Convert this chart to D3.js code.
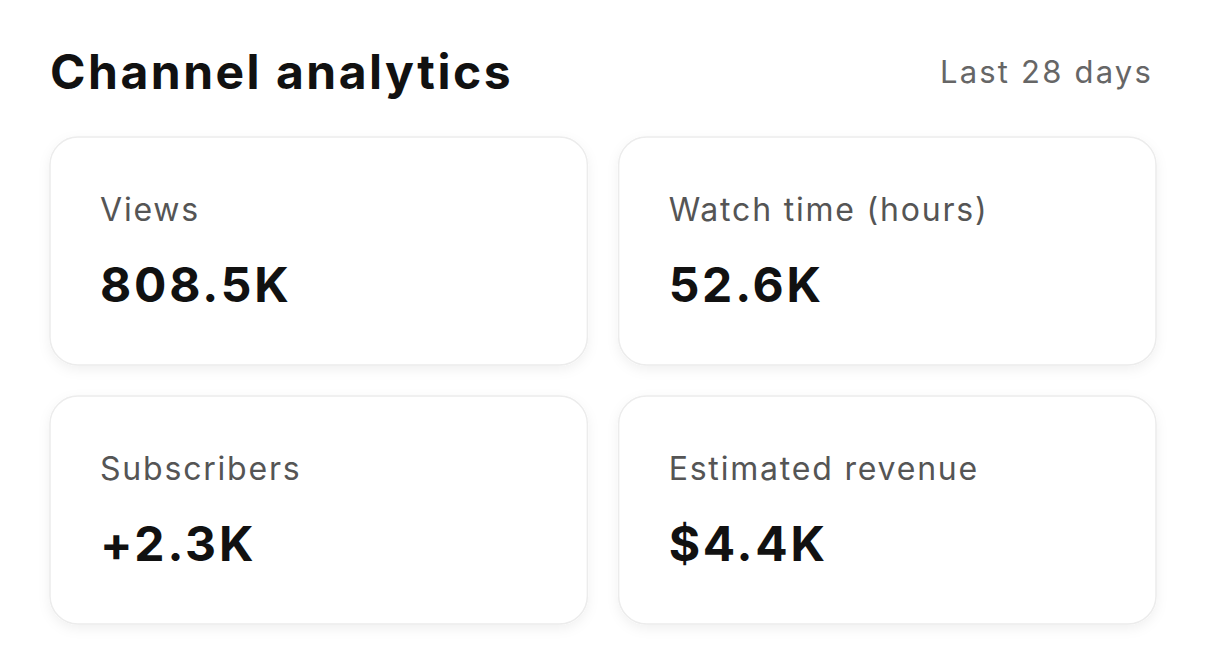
<!DOCTYPE html>
<html><head><meta charset="utf-8">
<script src="https://cdn.jsdelivr.net/npm/d3@7"></script>
<style>html,body{margin:0;background:#fff;}</style>
</head><body>
<script>
const title = "Channel analytics";
const period = "Last 28 days";
const labels = ["Views","Watch time (hours)","Subscribers","Estimated revenue"];
const values = ["808.5K","52.6K","+2.3K","$4.4K"];

const W=1206,H=670;
const svg=d3.select("body").append("svg").attr("width",W).attr("height",H);
const defs=svg.append("defs");
const f=defs.append("filter").attr("id","sh").attr("x","-10%").attr("y","-10%").attr("width","120%").attr("height","130%");
f.append("feDropShadow").attr("dx",0).attr("dy",4).attr("stdDeviation",6).attr("flood-color","#000").attr("flood-opacity",0.06);

const font="Inter, 'Open Sans', sans-serif";
svg.append("text").attr("x",50).attr("y",89).attr("font-family",font).attr("font-weight",700)
  .attr("font-size",48).attr("fill","#111").attr("letter-spacing",2.5).text(title);
svg.append("text").attr("x",1153).attr("y",83).attr("text-anchor","end").attr("font-family",font)
  .attr("font-size",31).attr("fill","#666").attr("letter-spacing",2.2).text(period);

const x=d3.scaleBand().domain([0,1]).range([50,1156]).paddingInner(0.055);
const y=d3.scaleBand().domain([0,1]).range([137,624]).paddingInner(0.12);
const g=svg.selectAll("g.card").data(labels).join("g")
  .attr("transform",(d,i)=>`translate(${x(i%2)},${y(Math.floor(i/2))})`);
g.append("rect").attr("width",x.bandwidth()).attr("height",y.bandwidth()).attr("rx",28)
  .attr("fill","#fff").attr("stroke","#ececec").attr("stroke-width",1.5).attr("filter","url(#sh)");
g.append("text").attr("x",50).attr("y",84).attr("font-family",font).attr("font-size",32)
  .attr("fill","#555").attr("letter-spacing",1.8).text(d=>d);
g.append("text").attr("x",50).attr("y",165).attr("font-family",font).attr("font-weight",700)
  .attr("font-size",48).attr("fill","#111").attr("letter-spacing",2.8).text((d,i)=>values[i]);
</script>
</body></html>
